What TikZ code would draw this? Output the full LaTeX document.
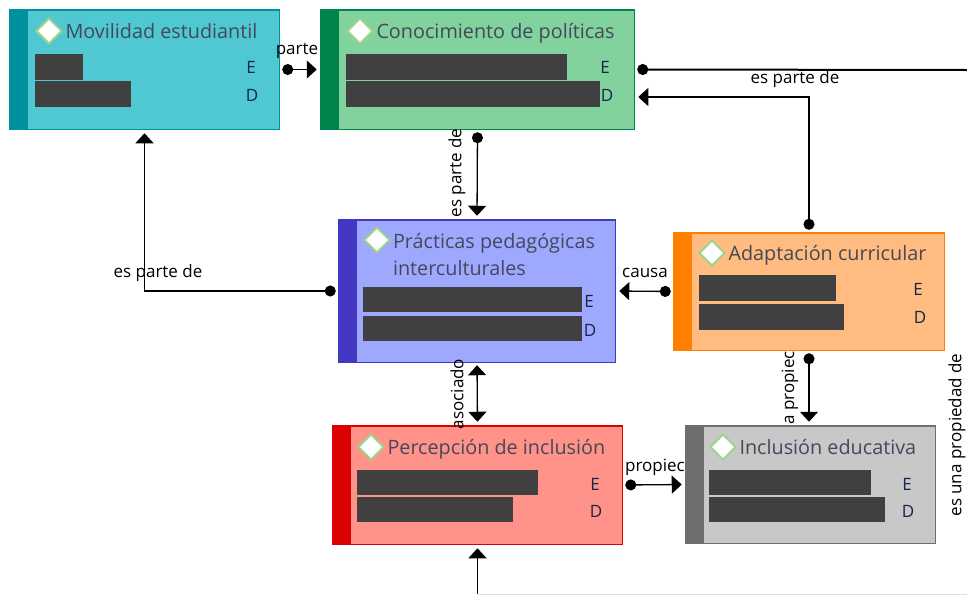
\documentclass[tikz,border=0pt]{standalone}
\usepackage{fontspec}
\setmainfont{Open Sans}
\usetikzlibrary{arrows.meta,calc,positioning,shapes.geometric}
\definecolor{moviFill}{HTML}{4FC8D2}
\definecolor{moviDark}{HTML}{00929C}
\definecolor{conoFill}{HTML}{82D29E}
\definecolor{conoDark}{HTML}{00844C}
\definecolor{pracFill}{HTML}{9FA8FF}
\definecolor{pracDark}{HTML}{4338C4}
\definecolor{adapFill}{HTML}{FFBB80}
\definecolor{adapDark}{HTML}{FF7F00}
\definecolor{percFill}{HTML}{FF938A}
\definecolor{percDark}{HTML}{DD0000}
\definecolor{inclFill}{HTML}{C8C8C8}
\definecolor{inclDark}{HTML}{6E6E6E}
\definecolor{titleInk}{HTML}{44485A}
\definecolor{letterInk}{HTML}{14244A}
\definecolor{barInk}{HTML}{404040}
\definecolor{gemEdge}{HTML}{9CD48A}

\begin{document}
\begin{tikzpicture}[x=1pt,y=-1pt,outer sep=0pt,
	box/.style={draw=#1Dark,fill=#1Fill,line width=1.5pt,inner sep=0pt},
	strip/.style={fill=#1Dark,inner sep=0pt,minimum width=18pt,anchor=north west},
	gem/.style={diamond,draw=gemEdge,fill=white,line width=2pt,inner sep=0pt,minimum size=25pt},
	title/.style={text=titleInk,font=\fontsize{19.8}{27}\selectfont,inner sep=0pt,anchor=west,align=left,text height=20pt,text depth=5pt},
	bar/.style={fill=barInk,inner sep=0pt,anchor=north west},
	letter/.style={text=letterInk,font=\fontsize{17}{20}\selectfont,inner sep=0pt},
	rel/.style={draw=black,line width=1.3pt,{Circle[length=11pt]}-{Triangle[width=18pt,length=10pt]},shorten <=3pt,shorten >=4pt},
	tag/.style={font=\fontsize{17}{20}\selectfont,inner sep=0pt}]
	\useasboundingbox (0,0) rectangle (967,595);

	% boxes
	\node[box=movi,minimum width=269.5pt,minimum height=119.5pt] (movi) at (144.5,69.5) {};
	\node[box=cono,minimum width=313.5pt,minimum height=119.5pt] (cono) at (477.5,69.5) {};
	\node[box=prac,minimum width=276.5pt,minimum height=142.5pt] (prac) at (477,291) {};
	\node[box=adap,minimum width=270.5pt,minimum height=117.5pt] (adap) at (809,291.5) {};
	\node[box=perc,minimum width=289.5pt,minimum height=118.5pt] (perc) at (477.5,485) {};
	\node[box=incl,minimum width=249.5pt,minimum height=117.5pt] (incl) at (810.5,484.5) {};

	% coloured strips
	\node[strip=movi,minimum height=119.5pt] (moviStrip) at (movi.north west) {};
	\node[strip=cono,minimum height=119.5pt] (conoStrip) at (cono.north west) {};
	\node[strip=prac,minimum height=142.5pt] (pracStrip) at (prac.north west) {};
	\node[strip=adap,minimum height=117.5pt] (adapStrip) at (adap.north west) {};
	\node[strip=perc,minimum height=118.5pt] (percStrip) at (perc.north west) {};
	\node[strip=incl,minimum height=117.5pt] (inclStrip) at (incl.north west) {};

	% titles
	\node[gem] (moviGem) at (49,31) {};
	\node[title,right=4pt of moviGem] (moviTitle) {Movilidad estudiantil};
	\node[gem] (conoGem) at (360,31) {};
	\node[title,right=4pt of conoGem] (conoTitle) {Conocimiento de políticas};
	\node[gem] (pracGem) at (377,240) {};
	\node[title,text height=,text depth=] (pracTitle) at (393,255) {Prácticas pedagógicas\\interculturales};
	\node[gem] (adapGem) at (712,253) {};
	\node[title,right=4pt of adapGem] (adapTitle) {Adaptación curricular};
	\node[gem] (percGem) at (371,447) {};
	\node[title,right=4pt of percGem] (percTitle) {Percepción de inclusión};
	\node[gem] (inclGem) at (723,447) {};
	\node[title,right=4pt of inclGem] (inclTitle) {Inclusión educativa};

	% hidden values
	\node[bar,minimum width=48pt,minimum height=26pt] (moviBarE) at (35,54) {};
	\node[bar,minimum width=96pt,minimum height=26pt] (moviBarD) at (35,81) {};
	\node[bar,minimum width=221pt,minimum height=26pt] (conoBarE) at (346,54) {};
	\node[bar,minimum width=254pt,minimum height=26pt] (conoBarD) at (346,81) {};
	\node[bar,minimum width=219pt,minimum height=25pt] (pracBarE) at (363,287) {};
	\node[bar,minimum width=219pt,minimum height=25pt] (pracBarD) at (363,316) {};
	\node[bar,minimum width=137pt,minimum height=26pt] (adapBarE) at (699,275) {};
	\node[bar,minimum width=145pt,minimum height=26pt] (adapBarD) at (699,304) {};
	\node[bar,minimum width=181pt,minimum height=25pt] (percBarE) at (357,470) {};
	\node[bar,minimum width=156pt,minimum height=25pt] (percBarD) at (357,497) {};
	\node[bar,minimum width=162pt,minimum height=25pt] (inclBarE) at (709,470) {};
	\node[bar,minimum width=176pt,minimum height=25pt] (inclBarD) at (709,497) {};

	\node[letter] (moviE) at (251,67) {E};
	\node[letter] (moviD) at (252,95) {D};
	\node[letter] (conoE) at (605,67) {E};
	\node[letter] (conoD) at (607,95) {D};
	\node[letter] (pracE) at (589,301) {E};
	\node[letter] (pracD) at (590,330) {D};
	\node[letter] (adapE) at (918,289) {E};
	\node[letter] (adapD) at (920,317) {D};
	\node[letter] (percE) at (595,484) {E};
	\node[letter] (percD) at (596,511) {D};
	\node[letter] (inclE) at (907,484) {E};
	\node[letter] (inclD) at (908,511) {D};

	% free ends
	\coordinate (exitRight) at (967,70);
	\coordinate (exitBottom) at (967,594);

	% relations
	\draw[rel] (movi.east) -- (cono.west);
	\draw[rel] (cono.south) -- (prac.north);
	\draw[rel,line width=2pt,{Circle[length=11pt]}-,shorten >=0pt] (cono.east) -- (exitRight);
	\draw[rel] (adap.north) |- ([yshift=-27.5pt]cono.east);
	\draw[rel] (adap.west) -- (prac.east);
	\draw[rel] (prac.west) -| (movi.south);
	\draw[rel,{Triangle[width=18pt,length=10pt]}-{Triangle[width=18pt,length=10pt]}] (prac.south) -- (perc.north);
	\draw[rel] (adap.south) -- (adap.south |- incl.north);
	\draw[rel] (perc.east) -- (incl.west);
	\draw[draw=black!12,line width=1pt] (exitBottom) -- (perc.south |- exitBottom);
	\draw[line width=1.3pt,-{Triangle[width=18pt,length=10pt]},shorten >=4pt] (perc.south |- exitBottom) -- (perc.south);

	% relation names
	\node[tag] (tagMoviCono) at (297,51) {parte};
	\node[tag,rotate=90] (tagConoPrac) at (457,173) {es parte de};
	\node[tag] (tagConoRight) at (795,79) {es parte de};
	\node[tag] (tagPracMovi) at (158,273) {es parte de};
	\node[tag] (tagAdapPrac) at (645,273) {causa};
	\node[tag,rotate=90] (tagPracPerc) at (457,394) {asociado};
	\node[tag,rotate=90] (tagAdapIncl) at (790,388) {a propiec};
	\node[tag] (tagPercIncl) at (655,467) {propiec};
	\node[tag,rotate=90] (tagInclRight) at (957,435) {es una propiedad de};
\end{tikzpicture}
\end{document}
